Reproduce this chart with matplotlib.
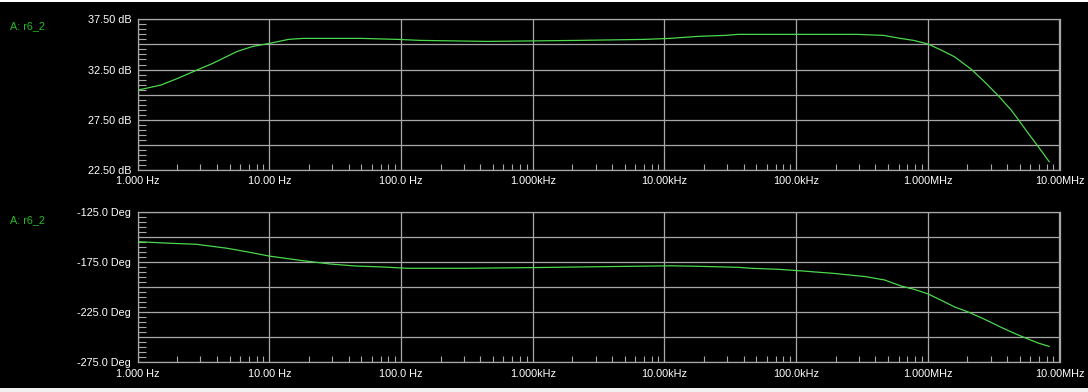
import numpy as np
import matplotlib
matplotlib.use("Agg")
import matplotlib.pyplot as plt
from matplotlib.patches import Rectangle
from matplotlib.ticker import FixedLocator, NullFormatter

# ---------------- data ----------------
mag_freq = [1, 1.5, 2, 3, 3.7, 5.7, 7.5, 10, 14, 18, 50, 95, 140, 450, 2200, 7000,
            11000, 14000, 18000, 29000, 36000, 290000, 460000, 620000, 780000,
            1.0e6, 1.27e6, 1.6e6, 2.15e6, 2.7e6, 3.4e6, 4.3e6, 5.0e6, 5.8e6, 6.9e6, 8.35e6]
mag_db = [30.45, 30.95, 31.6, 32.6, 33.1, 34.3, 34.8, 35.1, 35.5, 35.6, 35.6, 35.5, 35.4,
          35.3, 35.4, 35.5, 35.6, 35.7, 35.8, 35.9, 36.0, 36.0, 35.9, 35.6, 35.4,
          35.05, 34.42, 33.76, 32.5, 31.27, 29.95, 28.46, 27.3, 26.14, 24.82, 23.33]

ph_freq = [1, 1.8, 2.8, 4.8, 7.1, 10, 18, 29, 45, 73, 113, 300, 1000, 3700, 11000,
           18000, 36000, 46000, 73000, 113000, 150000, 190000, 340000, 470000,
           630000, 795000, 1.0e6, 1.27e6, 1.6e6, 2.03e6, 2.7e6, 3.63e6, 4.57e6,
           5.8e6, 6.9e6, 8.35e6]
ph_deg = [-154.4, -156, -157, -161, -165, -168.8, -173.4, -176.7, -178.7, -179.7,
          -181, -181, -180.3, -179.3, -178.5, -179, -180, -181, -182, -183.7, -185,
          -186, -189.4, -192.7, -198.8, -202.2, -206.5, -213.1, -219.7, -224.7,
          -232, -240.2, -246.2, -251.8, -255.8, -259.1]

x_ticks = [1, 10, 100, 1e3, 1e4, 1e5, 1e6, 1e7]
x_labels = ["1.000 Hz", "10.00 Hz", "100.0 Hz", "1.000kHz", "10.00kHz",
            "100.0kHz", "1.000MHz", "10.00MHz"]

mag_grid = [22.5, 25, 27.5, 30, 32.5, 35, 37.5]
mag_labels = ["22.50 dB", "", "27.50 dB", "", "32.50 dB", "", "37.50 dB"]
ph_grid = [-275, -250, -225, -200, -175, -150, -125]
ph_labels = ["-275.0 Deg", "", "-225.0 Deg", "", "-175.0 Deg", "", "-125.0 Deg"]

trace_name = "A: r6_2"

# ---------------- style ----------------
W, H = 1088, 392
plt.rcParams['font.family'] = ['Liberation Sans', 'DejaVu Sans']
GRID = '#a8a8a8'
LINE = '#4cd84c'
TXT_GREEN = '#22bb22'
FS = 7.8

fig = plt.figure(figsize=(W / 100, H / 100), dpi=100, facecolor='black')

# screenshot edges
fig.patches.append(Rectangle((0, 1 - 1.5 / H), 1, 1.5 / H, transform=fig.transFigure,
                             facecolor='white', edgecolor='none'))
fig.patches.append(Rectangle((0, 0), 1, 4 / H, transform=fig.transFigure,
                             facecolor='#f0f0f0', edgecolor='none'))

x0 = 137.6 / W
x1 = 1059.5 / W


def make_axes(top_px, bot_px, freq, vals, grid, labels, minor_step):
    ax = fig.add_axes([x0, 1 - bot_px / H, x1 - x0, (bot_px - top_px) / H])
    ax.set_facecolor('black')
    ax.set_xscale('log')
    ax.set_xlim(1, 1e7)
    ax.set_ylim(grid[0], grid[-1])
    ax.plot(freq, vals, color=LINE, lw=0.9, solid_joinstyle='round', zorder=3)
    ax.set_xticks(x_ticks, labels=x_labels)
    ax.set_yticks(grid, labels=labels)
    minors = [m * d for d in [1, 10, 100, 1e3, 1e4, 1e5, 1e6] for m in range(2, 10)]
    ax.xaxis.set_minor_locator(FixedLocator(minors))
    ax.xaxis.set_minor_formatter(NullFormatter())
    ax.yaxis.set_minor_locator(FixedLocator(np.arange(grid[0], grid[-1] + 1e-9, minor_step)))
    ax.yaxis.set_minor_formatter(NullFormatter())
    ax.tick_params(axis='both', which='major', length=0, labelsize=FS,
                   labelcolor='white', pad=4.6)
    ax.tick_params(axis='x', which='minor', direction='in', length=4.6, width=0.8,
                   color=GRID, bottom=True, top=False)
    ax.tick_params(axis='y', which='minor', direction='in', length=5.5, width=0.8,
                   color=GRID, left=True, right=False)
    ax.grid(True, which='major', color=GRID, lw=0.9)
    for s in ax.spines.values():
        s.set_color(GRID)
        s.set_linewidth(0.9)
    return ax


ax1 = make_axes(19.3, 170.0, mag_freq, mag_db, mag_grid, mag_labels, 0.5)
ax2 = make_axes(212.3, 362.3, ph_freq, ph_deg, ph_grid, ph_labels, 5)

fig.text(10 / W, 1 - 26 / H, trace_name, color=TXT_GREEN, fontsize=FS,
         ha='left', va='center')
fig.text(10 / W, 1 - 220 / H, trace_name, color=TXT_GREEN, fontsize=FS,
         ha='left', va='center')

fig.savefig('out.png', dpi=100, facecolor='black')
